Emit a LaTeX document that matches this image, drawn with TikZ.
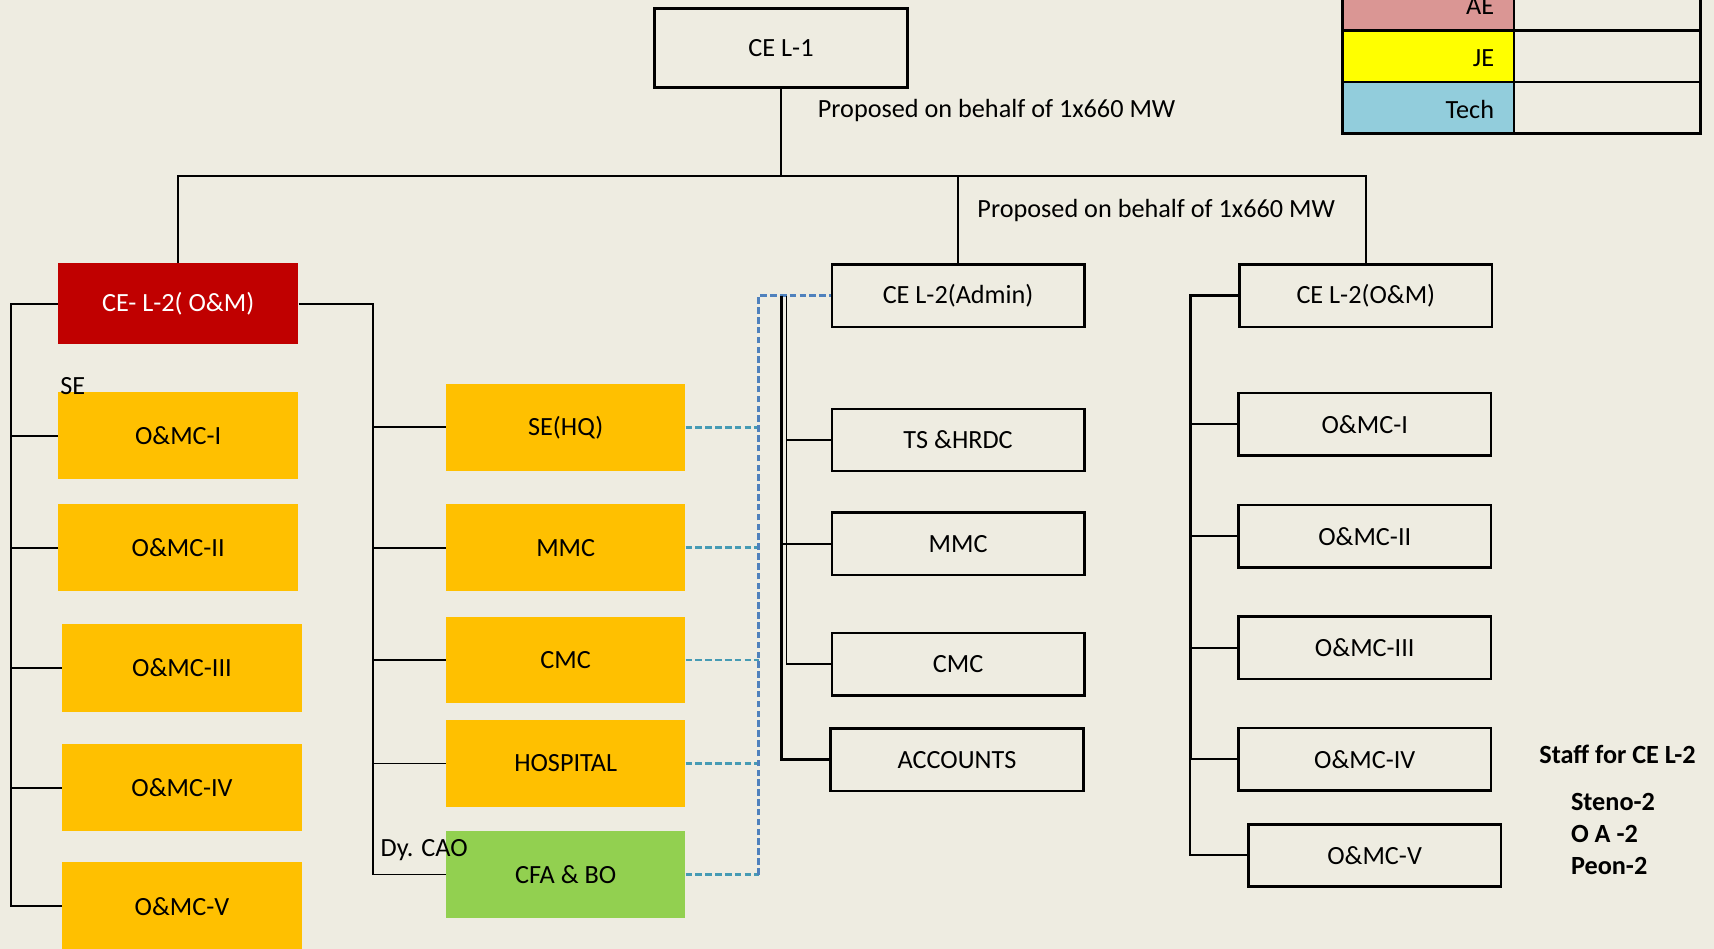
\documentclass[tikz,border=0pt]{standalone}
\usepackage{fontspec}
\setmainfont{Carlito}
\definecolor{bgcol}{HTML}{EEECE1}
\definecolor{myred}{HTML}{C00000}
\definecolor{myyellow}{HTML}{FFC000}
\definecolor{mygreen}{HTML}{92D050}
\definecolor{aepink}{HTML}{DA9694}
\definecolor{jeyellow}{HTML}{FFFF00}
\definecolor{techblue}{HTML}{92CDDC}
\definecolor{dteal}{RGB}{70,155,180}
\definecolor{dblue}{HTML}{4F81BD}
\begin{document}
\begin{tikzpicture}[x=1pt,y=-1pt,
  every node/.style={font=\fontsize{24}{28}\selectfont, inner sep=0pt},
  obox/.style={draw=black, line width=2.4pt, minimum width=231pt, minimum height=57pt},
  fbox/.style={minimum width=219pt, minimum height=80pt},
  ybox/.style={fbox, fill=myyellow},
  conn/.style={line width=1.7pt, black},
  tconn/.style={line width=2.6pt, black},
  dconn/.style={line width=2.2pt, dash pattern=on 6pt off 3pt},
  lbl/.style={anchor=west},
  blbl/.style={anchor=west, font=\fontsize{24}{28}\selectfont\bfseries},
  cell/.style={draw=black, line width=2.6pt}
]
\fill[bgcol] (0,0) rectangle (1568,868);
\useasboundingbox (0,0) rectangle (1568,868);

% top
\node[obox, minimum width=231pt, minimum height=72pt] (cel1) at (714.5,44) {CE L-1};
\node[lbl] (prop1) at (748,101) {Proposed on behalf of 1x660 MW};
\node[lbl] (prop2) at (894,193) {Proposed on behalf of 1x660 MW};

% left red and yellow column
\node[fbox, fill=myred, text=white, minimum width=220pt, minimum height=74pt] (red) at (163,278) {CE- L-2( O\&M)};
\node[ybox, minimum width=220pt, minimum height=79pt] (l1) at (163,398.5) {O\&MC-I};
\node[ybox, minimum width=220pt] (l2) at (163,501) {O\&MC-II};
\node[ybox] (l3) at (166.5,611) {O\&MC-III};
\node[ybox, minimum height=79pt] (l4) at (166.5,720.5) {O\&MC-IV};
\node[ybox] (l5) at (166.5,829) {O\&MC-V};
\node[lbl] (se) at (55,353) {SE};

% middle column
\node[ybox] (m1) at (517.5,391) {SE(HQ)};
\node[ybox] (m2) at (517.5,501) {MMC};
\node[ybox, minimum height=79pt] (m3) at (517.5,603.5) {CMC};
\node[ybox, minimum height=79pt] (m4) at (517.5,698.5) {HOSPITAL};
\node[fbox, fill=mygreen] (m5) at (517.5,800) {CFA \& BO};
\node[lbl] (dycao) at (348,778) {Dy. CAO};

% admin column
\node[obox] (adm) at (876.5,270.5) {CE L-2(Admin)};
\node[obox] (ts) at (876.5,402.5) {TS \&HRDC};
\node[obox] (amm) at (876.5,497.5) {MMC};
\node[obox] (acm) at (876.5,607.5) {CMC};
\node[obox] (acc) at (875.5,695) {ACCOUNTS};

% right column
\node[obox] (rom) at (1249.5,270.5) {CE L-2(O\&M)};
\node[obox] (r1) at (1248.5,388) {O\&MC-I};
\node[obox] (r2) at (1248.5,490.5) {O\&MC-II};
\node[obox] (r3) at (1248.5,592.5) {O\&MC-III};
\node[obox] (r4) at (1248.5,694.5) {O\&MC-IV};
\node[obox] (r5) at (1257.5,782.5) {O\&MC-V};

% staff
\node[blbl] (staff) at (1408,690) {Staff for CE L-2};
\node[blbl] (st1) at (1437,734) {Steno-2};
\node[blbl] (st2) at (1437,763) {O A -2};
\node[blbl] (st3) at (1437,792) {Peon-2};

% legend
\fill[aepink] (1228,-20) rectangle (1385,28);
\fill[jeyellow] (1228,28) rectangle (1385,75);
\fill[techblue] (1228,75) rectangle (1385,122);
\draw[cell] (1228,-20) rectangle (1556,122);
\draw[cell] (1385,-20) -- (1385,122);
\draw[cell] (1228,28) -- (1556,28);
\draw[cell] (1228,75) -- (1556,75);
\node[anchor=east] (ae) at (1367,6) {AE};
\node[anchor=east] (je) at (1367,53) {JE};
\node[anchor=east] (tech) at (1367,100) {Tech};

% top bus
\coordinate (bus) at (714.5,161);
\draw[conn] (cel1.south) -- (bus);
\draw[conn] (red.north) -- (red.north |- bus) -- (rom.north |- bus) -- (rom.north);
\draw[conn] (adm.north |- bus) -- (adm.north);

% left bracket
\coordinate (lx) at (10,0);
\draw[conn] (red.west) -- (red.west -| lx) -- (l5.west -| lx) -- (l5.west);
\foreach \n in {l1,l2,l3,l4} \draw[conn] (\n.west -| lx) -- (\n.west);

% middle bracket
\coordinate (mx) at (341,0);
\draw[conn] (red.east) -- (red.east -| mx) -- (m5.west -| mx) -- (m5.west);
\foreach \n in {m1,m2,m3,m4} \draw[conn] (\n.west -| mx) -- (\n.west);

% dashed links
\coordinate (dx) at (694,0);
\foreach \n in {m1,m2,m3,m4,m5} \draw[dconn, dteal] (\n.east) -- (\n.east -| dx);
\draw[dconn, dblue] (m5.east -| dx) -- (adm.west -| dx) -- (adm.west);

% admin brackets
\coordinate (ax) at (715,0);
\coordinate (bx) at (719.5,0);
\draw[tconn] (adm.west -| ax) -- (acc.west -| ax) -- (acc.west);
\draw[conn] (amm.west -| ax) -- (amm.west);
\draw[conn] (adm.west -| bx) -- (acm.west -| bx) -- (acm.west);
\draw[conn] (ts.west -| bx) -- (ts.west);

% right bracket
\coordinate (rx) at (1089,0);
\draw[tconn] (rom.west) -- (rom.west -| rx) -- (r4.west -| rx);
\draw[conn] (r4.west -| rx) -- (r5.west -| rx) -- (r5.west);
\foreach \n in {r1,r2,r3,r4} \draw[conn] (\n.west -| rx) -- (\n.west);
\end{tikzpicture}
\end{document}
